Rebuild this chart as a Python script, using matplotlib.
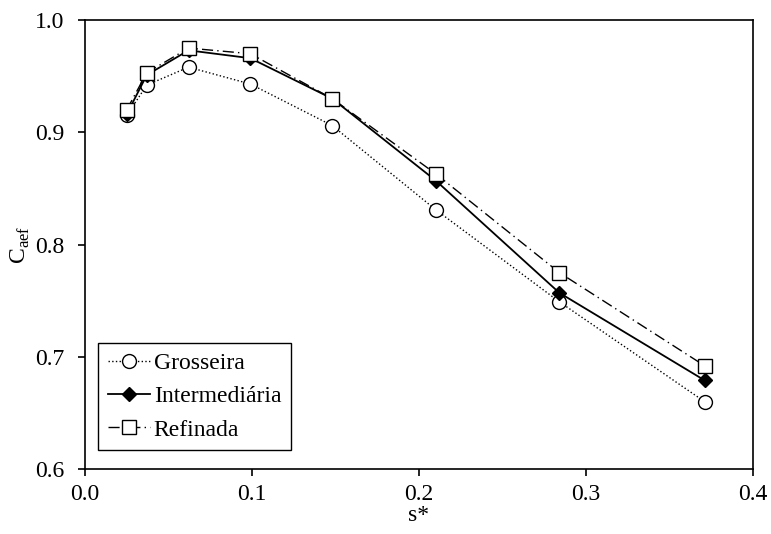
import numpy as np
import matplotlib.pyplot as plt

plt.rcParams['font.family'] = ['Liberation Serif', 'DejaVu Serif']
plt.rcParams['mathtext.fontset'] = 'custom'
plt.rcParams['mathtext.rm'] = 'Liberation Serif'

s = [0.025, 0.037, 0.062, 0.099, 0.148, 0.210, 0.284, 0.371]
grosseira = [0.915, 0.942, 0.958, 0.943, 0.906, 0.831, 0.749, 0.660]
intermediaria = [0.916, 0.951, 0.973, 0.966, 0.930, 0.857, 0.757, 0.679]
refinada = [0.920, 0.953, 0.975, 0.970, 0.930, 0.863, 0.775, 0.692]

fig = plt.figure(figsize=(7.71, 5.34), dpi=100)
ax = fig.add_axes([0.1102, 0.1217, 0.8665, 0.8408])

ax.plot(s, grosseira, linestyle=':', color='black', lw=1, marker='o', ms=10,
        mfc='white', mec='black', mew=1, label='Grosseira')
ax.plot(s, intermediaria, linestyle='-', color='black', lw=1.3, marker='D', ms=7,
        mfc='black', mec='black', label='Intermediária')
ax.plot(s, refinada, linestyle=(0, (8, 3, 1, 3)), color='black', lw=1, marker='s', ms=10,
        mfc='white', mec='black', mew=1, label='Refinada')

ax.set_xlim(0, 0.4)
ax.set_ylim(0.6, 1.0)
ax.set_xticks([0.0, 0.1, 0.2, 0.3, 0.4])
ax.set_yticks([0.6, 0.7, 0.8, 0.9, 1.0])
ax.xaxis.set_major_formatter(plt.FormatStrFormatter('%.1f'))
ax.yaxis.set_major_formatter(plt.FormatStrFormatter('%.1f'))
ax.tick_params(direction='out', length=5, width=1.2, labelsize=17, top=False, right=False)
ax.tick_params(axis='y', pad=10)
ax.tick_params(axis='x', pad=6)
for sp in ax.spines.values():
    sp.set_linewidth(1.2)

ax.set_xlabel('s*', fontsize=17, labelpad=0)
ax.set_ylabel(r'C$_{\mathrm{aef}}$', fontsize=17, labelpad=2)

leg = ax.legend(loc='lower left', bbox_to_anchor=(0.02, 0.042), fontsize=17,
                handlelength=1.8, handletextpad=0.15, borderpad=0.4, labelspacing=0.5,
                fancybox=False, framealpha=1, edgecolor='black', borderaxespad=0)
leg.get_frame().set_linewidth(1)

fig.savefig('out.png', dpi=100)
